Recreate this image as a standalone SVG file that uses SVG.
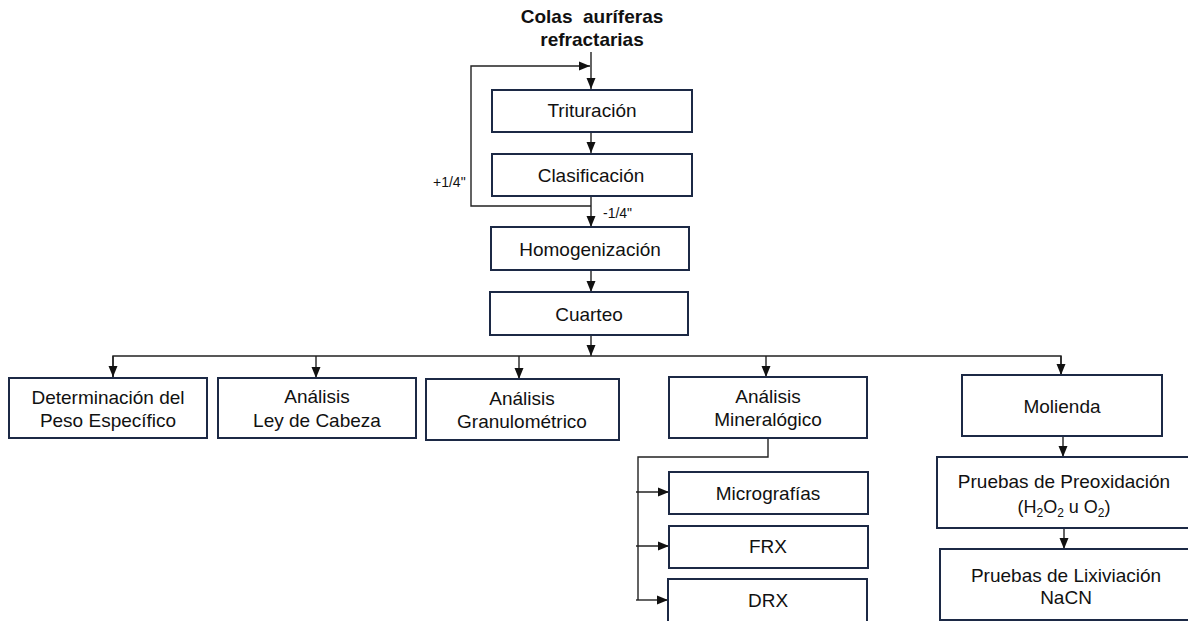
<svg xmlns="http://www.w3.org/2000/svg" width="1188" height="621" viewBox="0 0 1188 621">
<defs>
<marker id="ah" markerUnits="userSpaceOnUse" markerWidth="12" markerHeight="12" viewBox="0 0 12 12" refX="11" refY="6" orient="auto">
<path d="M0,1.5 L11,6 L0,10.5 Z" fill="#111"/>
</marker>
<style>
.box{fill:#fff;stroke:#1c2945;stroke-width:2}
.t{font-family:"Liberation Sans",Arial,sans-serif;font-size:19px;fill:#111;text-anchor:middle}
.s{font-family:"Liberation Sans",Arial,sans-serif;font-size:14px;fill:#111}
.title{font-family:"Liberation Sans",Arial,sans-serif;font-size:19px;font-weight:bold;fill:#111;text-anchor:middle}
.c{fill:none;stroke:#222;stroke-width:1.4}
.a{marker-end:url(#ah)}
</style>
</defs>
<rect width="1188" height="621" fill="#fff"/>
<g id="title">
<text class="title" x="592" y="23">Colas&#160; auríferas</text>
<text class="title" x="592" y="46">refractarias</text>
</g>
<g id="connectors">
<line class="c a" x1="591" y1="52" x2="591" y2="89"/>
<polyline class="c a" points="591,206 471,206 471,66 590,66"/>
<line class="c a" x1="591" y1="132" x2="591" y2="153"/>
<line class="c a" x1="591" y1="196" x2="591" y2="227"/>
<line class="c a" x1="591" y1="270" x2="591" y2="292"/>
<line class="c a" x1="591" y1="335" x2="591" y2="356"/>
<polyline class="c" points="113,377 113,356 1061,356 1061,375"/>
<line class="c a" x1="113" y1="356" x2="113" y2="377"/>
<line class="c a" x1="316" y1="356" x2="316" y2="378"/>
<line class="c a" x1="519" y1="356" x2="519" y2="379"/>
<line class="c a" x1="766" y1="356" x2="766" y2="377"/>
<line class="c a" x1="1061" y1="356" x2="1061" y2="375"/>
<polyline class="c" points="768,438 768,457 638,457 638,600"/>
<line class="c a" x1="636" y1="492" x2="669" y2="492"/>
<line class="c a" x1="636" y1="546" x2="669" y2="546"/>
<line class="c a" x1="636" y1="600" x2="668" y2="600"/>
<line class="c a" x1="1063" y1="436" x2="1063" y2="457"/>
<line class="c a" x1="1064" y1="528" x2="1064" y2="549"/>
</g>
<g id="labels">
<text class="s" x="433" y="187">+1/4"</text>
<text class="s" x="603" y="218">-1/4"</text>
</g>
<g id="trituracion">
<rect class="box" x="492" y="90" width="200" height="42"/>
<text class="t" x="592" y="117">Trituración</text>
</g>
<g id="clasificacion">
<rect class="box" x="492" y="154" width="200" height="42"/>
<text class="t" x="591" y="182">Clasificación</text>
</g>
<g id="homogenizacion">
<rect class="box" x="491" y="227" width="198" height="43"/>
<text class="t" x="590" y="256">Homogenización</text>
</g>
<g id="cuarteo">
<rect class="box" x="490" y="292" width="198" height="43"/>
<text class="t" x="589" y="321">Cuarteo</text>
</g>
<g id="peso">
<rect class="box" x="9" y="378" width="198" height="60"/>
<text class="t" x="108" y="404">Determinación del</text>
<text class="t" x="108" y="427">Peso Específico</text>
</g>
<g id="ley">
<rect class="box" x="218" y="378" width="198" height="60"/>
<text class="t" x="317" y="403">Análisis</text>
<text class="t" x="317" y="427">Ley de Cabeza</text>
</g>
<g id="granulometrico">
<rect class="box" x="426" y="379" width="193" height="61"/>
<text class="t" x="522" y="405">Análisis</text>
<text class="t" x="522" y="428">Granulométrico</text>
</g>
<g id="mineralogico">
<rect class="box" x="669" y="377" width="198" height="61"/>
<text class="t" x="768" y="403">Análisis</text>
<text class="t" x="768" y="426">Mineralógico</text>
</g>
<g id="molienda">
<rect class="box" x="962" y="375" width="200" height="61"/>
<text class="t" x="1062" y="413">Molienda</text>
</g>
<g id="micrografias">
<rect class="box" x="669" y="472" width="199" height="42"/>
<text class="t" x="768" y="500">Micrografías</text>
</g>
<g id="frx">
<rect class="box" x="669" y="526" width="199" height="42"/>
<text class="t" x="768" y="553">FRX</text>
</g>
<g id="drx">
<rect class="box" x="668" y="579" width="199" height="44"/>
<text class="t" x="768" y="607">DRX</text>
</g>
<g id="preoxidacion">
<rect class="box" x="937" y="457" width="260" height="71"/>
<text class="t" x="1064" y="488">Pruebas de Preoxidación</text>
<text class="t" x="1064" y="513" style="font-size:18px">(H<tspan font-size="12" dy="4">2</tspan><tspan dy="-4">O</tspan><tspan font-size="12" dy="4">2</tspan><tspan dy="-4"> u O</tspan><tspan font-size="12" dy="4">2</tspan><tspan dy="-4">)</tspan></text>
</g>
<g id="lixiviacion">
<rect class="box" x="940" y="549" width="260" height="71"/>
<text class="t" x="1066" y="582">Pruebas de Lixiviación</text>
<text class="t" x="1066" y="604">NaCN</text>
</g>
</svg>
